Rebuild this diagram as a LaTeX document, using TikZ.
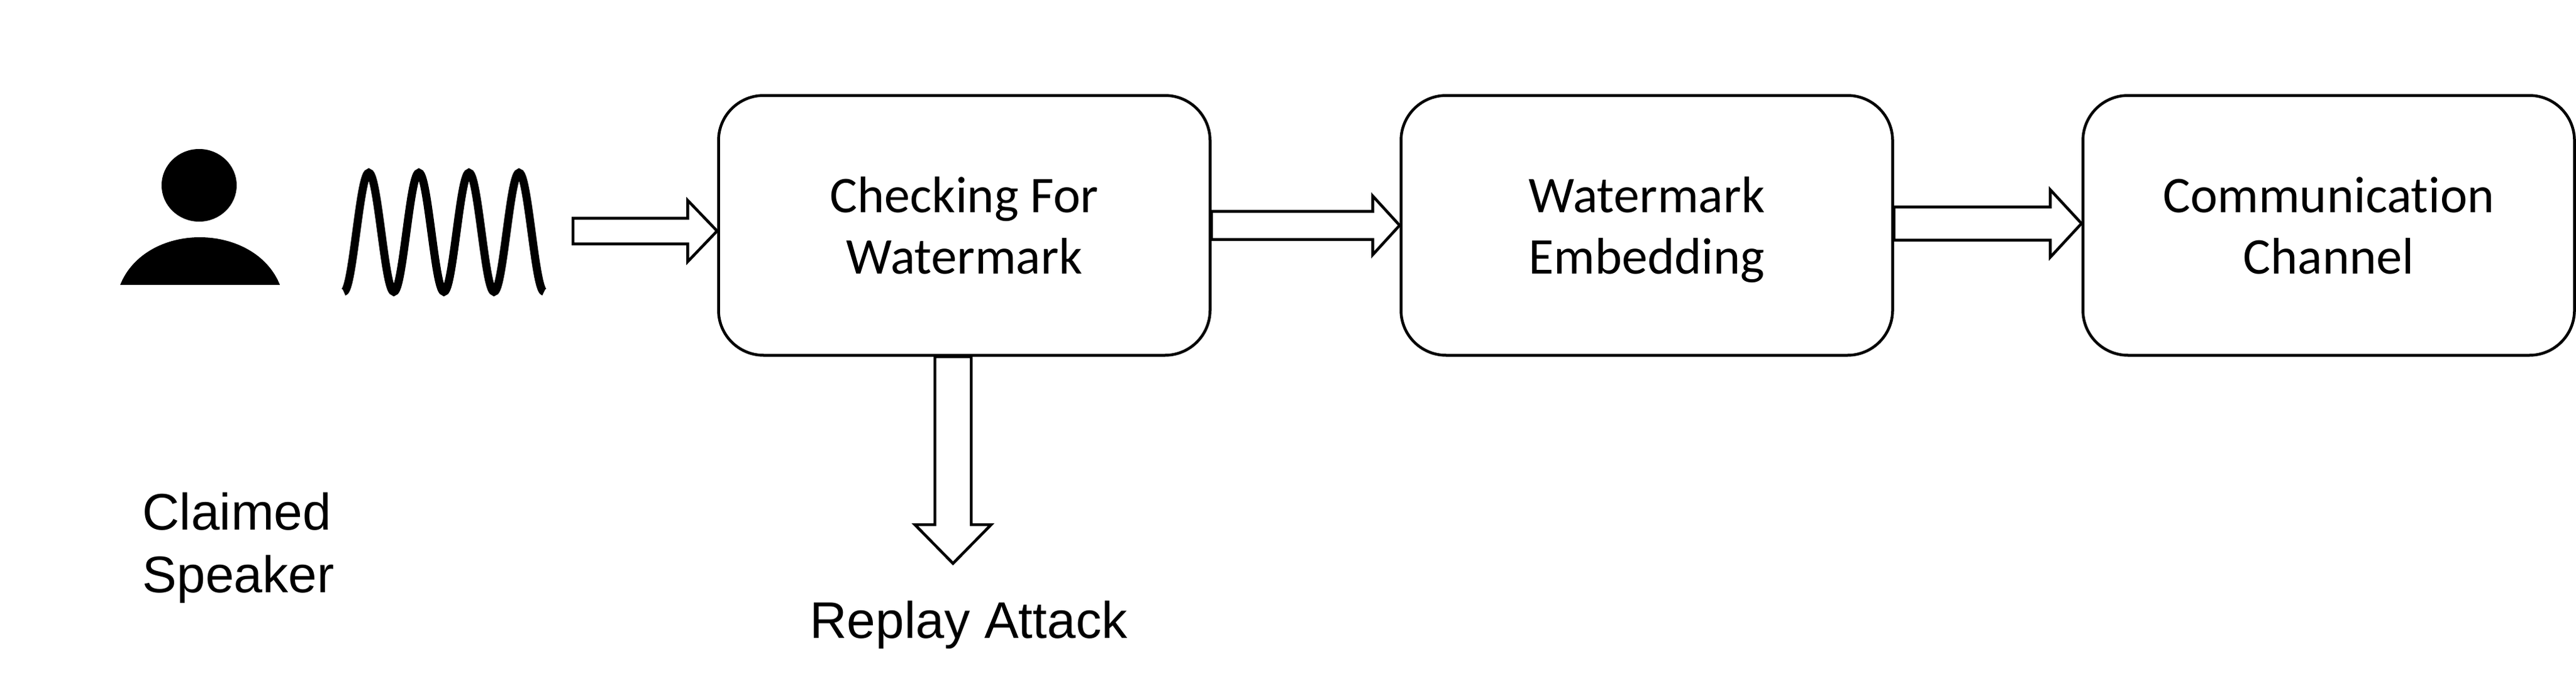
\documentclass[tikz,border=0pt]{standalone}
\usepackage{fontspec}
\setmainfont[Ligatures=CommonOff]{Carlito}
\newfontfamily\labelfont{Liberation Sans}
\usetikzlibrary{calc}
\tikzset{
	stagebox/.style={draw, line width=0.045cm, rounded corners=0.72cm, minimum width=7.85cm, minimum height=4.15cm, text depth=0pt, align=center, font=\fontsize{23.4}{28}\selectfont},
	tag/.style={align=left, font=\labelfont\fontsize{23.4}{28.4}\selectfont},
	blockarrow/.style n args={3}{draw, fill=white, line width=0.045cm, to path={
		-- ($(\tikztostart)!#1!90:(\tikztotarget)$)
		-- ($($(\tikztotarget)!#3!(\tikztostart)$)!#1!90:(\tikztotarget)$)
		-- ($($(\tikztotarget)!#3!(\tikztostart)$)!#2!90:(\tikztotarget)$)
		-- (\tikztotarget)
		-- ($($(\tikztotarget)!#3!(\tikztostart)$)!#2!-90:(\tikztotarget)$)
		-- ($($(\tikztotarget)!#3!(\tikztostart)$)!#1!-90:(\tikztotarget)$)
		-- ($(\tikztostart)!#1!-90:(\tikztotarget)$)
		-- cycle}}
}
\begin{document}
\begin{tikzpicture}
	\useasboundingbox (0,0) rectangle (41.14,10.90);
	% speaker
	\fill (3.18,7.94) ellipse (0.6 and 0.58);
	\fill (1.92,6.35) .. controls (2.12,6.85) and (2.65,7.11) .. (3.19,7.11) .. controls (3.73,7.11) and (4.27,6.85) .. (4.47,6.35) -- cycle;
	\draw[line width=0.13cm, domain=0:4, samples=161, smooth] plot ({5.49+0.8*\x},{7.19-0.95*cos(360*\x)});
	\node[tag, anchor=west] (speaker) at (2.15,2.15) {Claimed\\Speaker};
	% stages
	\node[stagebox] (chk) at (15.40,7.30) {Checking For\\Watermark};
	\node[stagebox] (emb) at (26.30,7.30) {Watermark\\Embedding};
	\node[stagebox] (chan) at (37.19,7.30) {Communication\\Channel};
	\node[tag] (replay) at (15.47,0.92) {Replay Attack};
	% arrows
	\coordinate (wavetail) at (9.15,7.21);
	\coordinate (replaytip) at (15.22,1.90);
	\draw[blockarrow={0.205cm}{0.49cm}{0.47cm}] (wavetail) to (chk.west |- wavetail);
	\draw[blockarrow={0.225cm}{0.47cm}{0.43cm}] (chk.east) to (emb.west);
	\draw[blockarrow={0.265cm}{0.54cm}{0.50cm}] ([yshift=0.03cm]emb.east) to ([yshift=0.03cm]chan.west);
	\draw[blockarrow={0.29cm}{0.61cm}{0.62cm}] (chk.south -| replaytip) to (replaytip);
\end{tikzpicture}
\end{document}
